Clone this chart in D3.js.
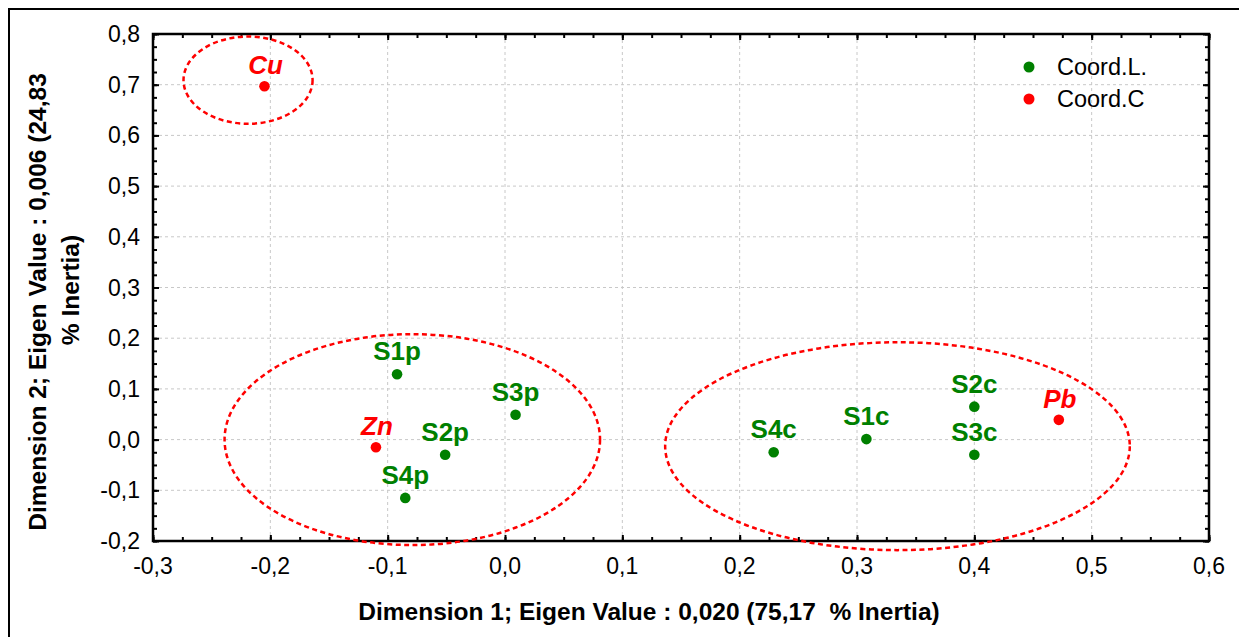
<!DOCTYPE html>
<html><head><meta charset="utf-8">
<script src="https://cdn.jsdelivr.net/npm/d3@7"></script>
<style>
html,body{margin:0;padding:0;background:#fff;}
svg{display:block;font-family:"Liberation Sans",Arial,sans-serif;}
text{white-space:pre;}
</style></head>
<body>
<svg id="chart" width="1239" height="637"></svg>
<script>
// ---- data ----
const rowLabels = ["S1p","S2p","S3p","S4p","S1c","S2c","S3c","S4c"];
const rowX = [-0.092, -0.051, 0.009, -0.085, 0.308, 0.400, 0.400, 0.229];
const rowY = [0.129, -0.030, 0.049, -0.115, 0.001, 0.065, -0.030, -0.025];
const colLabels = ["Cu","Zn","Pb"];
const colX = [-0.205, -0.110, 0.472];
const colY = [0.697, -0.015, 0.039];
// grouping ellipses (data units): centre x, centre y, radius x, radius y
const ellCX = [-0.219, -0.079, 0.3345];
const ellCY = [0.709, 0.000, -0.013];
const ellRX = [0.055, 0.160, 0.198];
const ellRY = [0.086, 0.208, 0.205];
const xTicks = [-0.3,-0.2,-0.1,0.0,0.1,0.2,0.3,0.4,0.5,0.6];
const yTicks = [-0.2,-0.1,0.0,0.1,0.2,0.3,0.4,0.5,0.6,0.7,0.8];
const legendLabels = ["Coord.L.","Coord.C"];
const xTitle = "Dimension 1; Eigen Value : 0,020 (75,17  % Inertia)";
const yTitle1 = "Dimension 2; Eigen Value : 0,006 (24,83";
const yTitle2 = "% Inertia)";

const GREEN = "#008000", RED = "#ff0000";
const svg = d3.select("#chart");
const L = 153, R = 1209, T = 34, B = 541;
const x = d3.scaleLinear().domain([-0.3, 0.6]).range([L, R]);
const y = d3.scaleLinear().domain([-0.2, 0.8]).range([B, T]);
const fmt = d => d3.format(".1f")(d).replace(".", ",").replace("−","-");

// outer frame
svg.append("rect").attr("x",9).attr("y",9).attr("width",1250).attr("height",650)
  .attr("fill","none").attr("stroke","#000").attr("stroke-width",2);

// grid
const grid = svg.append("g").attr("stroke","#c8c8c8").attr("stroke-width",1).attr("stroke-dasharray","3,3");
xTicks.slice(1,-1).forEach(t => grid.append("line").attr("x1",x(t)).attr("x2",x(t)).attr("y1",T).attr("y2",B));
yTicks.slice(1,-1).forEach(t => grid.append("line").attr("y1",y(t)).attr("y2",y(t)).attr("x1",L).attr("x2",R));

// axes with inward ticks on all four sides
const minorX = d3.range(0, 37).map(i => -0.3 + i*0.025);
const minorY = d3.range(0, 41).map(i => -0.2 + i*0.025);
function styleAxis(g){ g.select(".domain").remove(); g.selectAll("line").attr("stroke","#000").attr("stroke-width",2); g.selectAll("text").remove(); }
svg.append("g").attr("transform",`translate(0,${B})`).call(d3.axisBottom(x).tickValues(minorX).tickSizeInner(-4).tickSizeOuter(0)).call(styleAxis);
svg.append("g").attr("transform",`translate(0,${T})`).call(d3.axisTop(x).tickValues(minorX).tickSizeInner(-4).tickSizeOuter(0)).call(styleAxis);
svg.append("g").attr("transform",`translate(${L},0)`).call(d3.axisLeft(y).tickValues(minorY).tickSizeInner(-4).tickSizeOuter(0)).call(styleAxis);
svg.append("g").attr("transform",`translate(${R},0)`).call(d3.axisRight(y).tickValues(minorY).tickSizeInner(-4).tickSizeOuter(0)).call(styleAxis);
svg.append("g").attr("transform",`translate(0,${B})`).call(d3.axisBottom(x).tickValues(xTicks).tickSizeInner(-6).tickSizeOuter(0)).call(styleAxis);
svg.append("g").attr("transform",`translate(${L},0)`).call(d3.axisLeft(y).tickValues(yTicks).tickSizeInner(-6).tickSizeOuter(0)).call(styleAxis);
svg.append("g").attr("transform",`translate(0,${T})`).call(d3.axisTop(x).tickValues(xTicks).tickSizeInner(-6).tickSizeOuter(0)).call(styleAxis);
svg.append("g").attr("transform",`translate(${R},0)`).call(d3.axisRight(y).tickValues(yTicks).tickSizeInner(-6).tickSizeOuter(0)).call(styleAxis);
svg.append("rect").attr("x",L).attr("y",T).attr("width",R-L).attr("height",B-T)
  .attr("fill","none").attr("stroke","#000").attr("stroke-width",2.5);

// tick labels
svg.append("g").selectAll("text").data(xTicks).join("text")
  .attr("x", d => x(d)).attr("y", 574).attr("text-anchor","middle")
  .attr("font-size","23px").text(fmt);
svg.append("g").selectAll("text").data(yTicks).join("text")
  .attr("x", 140).attr("y", d => y(d)+8).attr("text-anchor","end")
  .attr("font-size","23px").text(fmt);

// axis titles
svg.append("text").attr("x",649).attr("y",620).attr("text-anchor","middle")
  .attr("font-size","24.5px").attr("font-weight","bold").text(xTitle);
svg.append("text").attr("transform","translate(46,302) rotate(-90)").attr("text-anchor","middle")
  .attr("font-size","24.5px").attr("font-weight","bold").text(yTitle1);
svg.append("text").attr("transform","translate(79,290) rotate(-90)").attr("text-anchor","middle")
  .attr("font-size","24.5px").attr("font-weight","bold").text(yTitle2);

// ellipses
svg.append("g").selectAll("ellipse").data(ellCX).join("ellipse")
  .attr("cx", d => x(d)).attr("cy", (d,i) => y(ellCY[i]))
  .attr("rx", (d,i) => x(ellRX[i]) - x(0)).attr("ry", (d,i) => y(0) - y(ellRY[i]))
  .attr("fill","none").attr("stroke",RED).attr("stroke-width",2.5).attr("stroke-dasharray","5,3.5");

// points
const rows = rowLabels.map((l,i) => ({l, x: rowX[i], y: rowY[i]}));
const cols = colLabels.map((l,i) => ({l, x: colX[i], y: colY[i]}));
svg.append("g").selectAll("circle").data(rows).join("circle")
  .attr("cx", d => x(d.x)).attr("cy", d => y(d.y)).attr("r",5.3).attr("fill",GREEN);
svg.append("g").selectAll("circle").data(cols).join("circle")
  .attr("cx", d => x(d.x)).attr("cy", d => y(d.y)).attr("r",5.3).attr("fill",RED);
svg.append("g").selectAll("text").data(rows).join("text")
  .attr("x", d => x(d.x)).attr("y", d => y(d.y)-14).attr("text-anchor","middle")
  .attr("font-size","26px").attr("font-weight","bold").attr("fill",GREEN).text(d => d.l);
svg.append("g").selectAll("text").data(cols).join("text")
  .attr("x", d => x(d.x)+1).attr("y", d => y(d.y)-12).attr("text-anchor","middle")
  .attr("font-size","26px").attr("font-weight","bold").attr("font-style","italic").attr("fill",RED).text(d => d.l);

// legend
const lg = svg.append("g");
legendLabels.forEach((t,i) => {
  lg.append("circle").attr("cx",1029).attr("cy",67+i*32).attr("r",5.5).attr("fill", i===0?GREEN:RED);
  lg.append("text").attr("x",1057).attr("y",75+i*32).attr("font-size","23.5px").text(t);
});
</script>
</body></html>
